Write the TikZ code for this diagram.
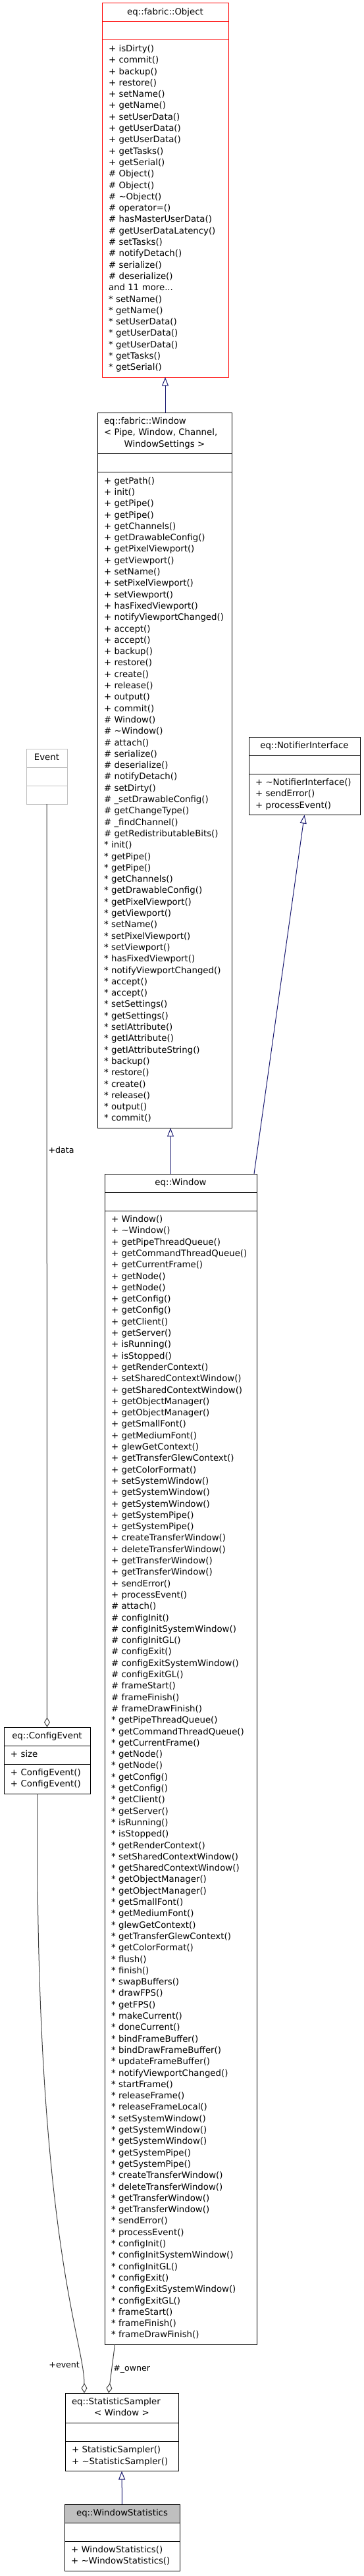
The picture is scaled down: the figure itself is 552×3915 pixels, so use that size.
\documentclass[tikz,border=0pt]{standalone}
\usepackage{fontspec}
\setmainfont{DejaVu Sans}
\usetikzlibrary{positioning,arrows.meta}

\definecolor{inheritblue}{HTML}{191970}
\definecolor{usegrey}{HTML}{404040}
\definecolor{headgrey}{HTML}{BFBFBF}

\newcommand{\classfont}{\fontsize{13.3pt}{17.3pt}\selectfont}
\newcommand{\labelfont}{\fontsize{12.6pt}{15pt}\selectfont}
\newcommand{\topstrut}{\rule{0pt}{11pt}}
\newcommand{\botstrut}{\rule[-4pt]{0pt}{4pt}}
\newcommand{\st}{{}*}

\tikzset{
  classpart/.style={draw, line width=1pt, font=\classfont, align=left,
    text width=#1, inner xsep=10pt, inner ysep=6.5pt, outer sep=0pt,
    execute at begin node=\topstrut, execute at end node=\botstrut},
  classhead/.style={classpart=#1, align=center},
  inherit/.style={draw=inheritblue, line width=1pt,
    {Triangle[open,length=13pt,width=10pt]}-},
  usage/.style={draw=usegrey, line width=1pt,
    {Diamond[open,length=15pt,width=9pt]}-},
  edgelabel/.style={font=\labelfont, inner sep=2pt},
}

\begin{document}
\begin{tikzpicture}[x=1pt, y=1pt]
    \useasboundingbox (0,0) rectangle (552,-3915);

    % eq::fabric::Object
    \node[classhead=172pt, draw=red, anchor=north west] (objhead) at (155,-5) {eq::fabric::Object};
    \node[classpart=172pt, draw=red, below=0pt of objhead] (objattr) {};
    \node[classpart=172pt, draw=red, below=0pt of objattr] (objops) {+ isDirty()\\+ commit()\\+ backup()\\+ restore()\\+ setName()\\+ getName()\\+ setUserData()\\+ getUserData()\\+ getUserData()\\+ getTasks()\\+ getSerial()\\\# Object()\\\# Object()\\\# \textasciitilde Object()\\\# operator=()\\\# hasMasterUserData()\\\# getUserDataLatency()\\\# setTasks()\\\# notifyDetach()\\\# serialize()\\\# deserialize()\\and 11 more...\\\st{} setName()\\\st{} getName()\\\st{} setUserData()\\\st{} getUserData()\\\st{} getUserData()\\\st{} getTasks()\\\st{} getSerial()};

    % eq::fabric::Window
    \node[classhead=184pt, align=left, anchor=north west] (fwinhead) at (148,-627) {eq::fabric::Window\\< Pipe, Window, Channel,\\\hspace*{\fill}WindowSettings >\hspace*{\fill}};
    \node[classpart=184pt, below=0pt of fwinhead] (fwinattr) {};
    \node[classpart=184pt, below=0pt of fwinattr] (fwinops) {+ getPath()\\+ init()\\+ getPipe()\\+ getPipe()\\+ getChannels()\\+ getDrawableConfig()\\+ getPixelViewport()\\+ getViewport()\\+ setName()\\+ setPixelViewport()\\+ setViewport()\\+ hasFixedViewport()\\+ notifyViewportChanged()\\+ accept()\\+ accept()\\+ backup()\\+ restore()\\+ create()\\+ release()\\+ output()\\+ commit()\\\# Window()\\\# \textasciitilde Window()\\\# attach()\\\# serialize()\\\# deserialize()\\\# notifyDetach()\\\# setDirty()\\\# \_setDrawableConfig()\\\# getChangeType()\\\# \_findChannel()\\\# getRedistributableBits()\\\st{} init()\\\st{} getPipe()\\\st{} getPipe()\\\st{} getChannels()\\\st{} getDrawableConfig()\\\st{} getPixelViewport()\\\st{} getViewport()\\\st{} setName()\\\st{} setPixelViewport()\\\st{} setViewport()\\\st{} hasFixedViewport()\\\st{} notifyViewportChanged()\\\st{} accept()\\\st{} accept()\\\st{} setSettings()\\\st{} getSettings()\\\st{} setIAttribute()\\\st{} getIAttribute()\\\st{} getIAttributeString()\\\st{} backup()\\\st{} restore()\\\st{} create()\\\st{} release()\\\st{} output()\\\st{} commit()};

    % eq::NotifierInterface
    \node[classhead=149pt, anchor=north west] (notifhead) at (378,-1120) {eq::NotifierInterface};
    \node[classpart=149pt, below=0pt of notifhead] (notifattr) {};
    \node[classpart=149pt, below=0pt of notifattr] (notifops) {+ \textasciitilde NotifierInterface()\\+ sendError()\\+ processEvent()};

    % Event
    \node[classhead=42pt, draw=headgrey, anchor=north west] (eventhead) at (40,-1138) {Event};
    \node[classpart=42pt, draw=headgrey, below=0pt of eventhead] (eventattr) {};
    \node[classpart=42pt, draw=headgrey, below=0pt of eventattr] (eventops) {};

    % eq::Window
    \node[classhead=211pt, anchor=north west] (winhead) at (159,-1784) {eq::Window};
    \node[classpart=211pt, below=0pt of winhead] (winattr) {};
    \node[classpart=211pt, below=0pt of winattr] (winops) {+ Window()\\+ \textasciitilde Window()\\+ getPipeThreadQueue()\\+ getCommandThreadQueue()\\+ getCurrentFrame()\\+ getNode()\\+ getNode()\\+ getConfig()\\+ getConfig()\\+ getClient()\\+ getServer()\\+ isRunning()\\+ isStopped()\\+ getRenderContext()\\+ setSharedContextWindow()\\+ getSharedContextWindow()\\+ getObjectManager()\\+ getObjectManager()\\+ getSmallFont()\\+ getMediumFont()\\+ glewGetContext()\\+ getTransferGlewContext()\\+ getColorFormat()\\+ setSystemWindow()\\+ getSystemWindow()\\+ getSystemWindow()\\+ getSystemPipe()\\+ getSystemPipe()\\+ createTransferWindow()\\+ deleteTransferWindow()\\+ getTransferWindow()\\+ getTransferWindow()\\+ sendError()\\+ processEvent()\\\# attach()\\\# configInit()\\\# configInitSystemWindow()\\\# configInitGL()\\\# configExit()\\\# configExitSystemWindow()\\\# configExitGL()\\\# frameStart()\\\# frameFinish()\\\# frameDrawFinish()\\\st{} getPipeThreadQueue()\\\st{} getCommandThreadQueue()\\\st{} getCurrentFrame()\\\st{} getNode()\\\st{} getNode()\\\st{} getConfig()\\\st{} getConfig()\\\st{} getClient()\\\st{} getServer()\\\st{} isRunning()\\\st{} isStopped()\\\st{} getRenderContext()\\\st{} setSharedContextWindow()\\\st{} getSharedContextWindow()\\\st{} getObjectManager()\\\st{} getObjectManager()\\\st{} getSmallFont()\\\st{} getMediumFont()\\\st{} glewGetContext()\\\st{} getTransferGlewContext()\\\st{} getColorFormat()\\\st{} flush()\\\st{} finish()\\\st{} swapBuffers()\\\st{} drawFPS()\\\st{} getFPS()\\\st{} makeCurrent()\\\st{} doneCurrent()\\\st{} bindFrameBuffer()\\\st{} bindDrawFrameBuffer()\\\st{} updateFrameBuffer()\\\st{} notifyViewportChanged()\\\st{} startFrame()\\\st{} releaseFrame()\\\st{} releaseFrameLocal()\\\st{} setSystemWindow()\\\st{} getSystemWindow()\\\st{} getSystemWindow()\\\st{} getSystemPipe()\\\st{} getSystemPipe()\\\st{} createTransferWindow()\\\st{} deleteTransferWindow()\\\st{} getTransferWindow()\\\st{} getTransferWindow()\\\st{} sendError()\\\st{} processEvent()\\\st{} configInit()\\\st{} configInitSystemWindow()\\\st{} configInitGL()\\\st{} configExit()\\\st{} configExitSystemWindow()\\\st{} configExitGL()\\\st{} frameStart()\\\st{} frameFinish()\\\st{} frameDrawFinish()};

    % eq::ConfigEvent
    \node[classhead=111pt, anchor=north west] (cfghead) at (6,-2625) {eq::ConfigEvent};
    \node[classpart=111pt, below=0pt of cfghead] (cfgattr) {+ size};
    \node[classpart=111pt, below=0pt of cfgattr] (cfgops) {+ ConfigEvent()\\+ ConfigEvent()};

    % eq::StatisticSampler
    \node[classhead=152pt, align=left, anchor=north west] (samphead) at (99,-3637) {eq::StatisticSampler\\\hspace*{\fill}< Window >\hspace*{\fill}};
    \node[classpart=152pt, below=0pt of samphead] (sampattr) {};
    \node[classpart=152pt, below=0pt of sampattr] (sampops) {+ StatisticSampler()\\+ \textasciitilde StatisticSampler()};

    % eq::WindowStatistics
    \node[classhead=155pt, fill=headgrey, anchor=north west] (wstathead) at (98,-3806) {eq::WindowStatistics};
    \node[classpart=155pt, below=0pt of wstathead] (wstatattr) {};
    \node[classpart=155pt, below=0pt of wstatattr] (wstatops) {+ WindowStatistics()\\+ \textasciitilde WindowStatistics()};

    % inheritance
    \draw[inherit] (objops.south) -- (objops.south |- fwinhead.north);
    \coordinate (fwinbase) at ([xshift=9pt]fwinops.south);
    \draw[inherit] (fwinbase) -- (fwinbase |- winhead.north);
    \draw[inherit] (notifops.south) -- ([xshift=-4pt]winhead.north east);
    \draw[inherit] (sampops.south) -- (wstathead.north);

    % usage
    \draw[usage] (cfghead.north) -- (eventops.south) node[edgelabel, pos=0.625, right] {+data};
    \coordinate (evtail) at ([xshift=-14.5pt]cfgops.south);
    \draw[usage] ([xshift=-57pt]samphead.north) .. controls +(0,80) and +(-5,-670) .. (evtail) node[edgelabel, pos=0.15, left] {+event};
    \draw[usage] ([xshift=-20pt]samphead.north) -- ([xshift=-100pt]winops.south) node[edgelabel, pos=0.5, right] {\#\_owner};
\end{tikzpicture}
\end{document}
